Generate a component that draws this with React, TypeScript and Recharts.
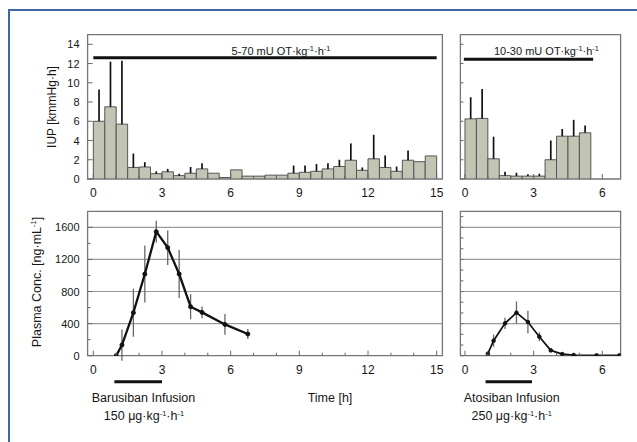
import React from 'react';
import { ComposedChart, Bar, Line, XAxis, YAxis, ErrorBar, ReferenceLine, ReferenceArea } from 'recharts';

const FONT = '"Liberation Sans", Arial, Helvetica, sans-serif';
const TXT = '#161616';
const W = 637;
const H = 442;

// ---- Data ----
const iupTimeOT70 = [0.25, 0.75, 1.25, 1.75, 2.25, 2.75, 3.25, 3.75, 4.25, 4.75, 5.25, 5.75, 6.25, 6.75, 7.25, 7.75, 8.25, 8.75, 9.25, 9.75, 10.25, 10.75, 11.25, 11.75, 12.25, 12.75, 13.25, 13.75, 14.25, 14.75];
const iupMeanOT70 = [6.0, 7.5, 5.7, 1.2, 1.25, 0.55, 0.75, 0.35, 0.6, 1.05, 0.6, 0.15, 0.95, 0.3, 0.3, 0.4, 0.4, 0.6, 0.7, 0.8, 1.05, 1.3, 1.95, 0.9, 2.1, 1.2, 0.8, 1.95, 1.8, 2.4];
const iupSdOT70 = [3.3, 4.7, 6.6, 1.45, 0.5, 0.25, 0.3, 0.2, 0.65, 0.6, 0, 0, 0, 0, 0, 0, 0, 0.8, 0.7, 0.75, 0.6, 0.7, 1.75, 0.3, 2.5, 1.25, 0.5, 1.0, 0, 0];

const iupTimeOT30 = [0.25, 0.75, 1.25, 1.75, 2.25, 2.75, 3.25, 3.75, 4.25, 4.75, 5.25];
const iupMeanOT30 = [6.25, 6.3, 2.1, 0.35, 0.3, 0.3, 0.3, 2.0, 4.45, 4.45, 4.8];
const iupSdOT30 = [2.25, 3.05, 2.3, 0.4, 0.35, 0.2, 0.25, 2.0, 0.75, 1.7, 0.75];

const pkTime = [1.0, 1.25, 1.75, 2.25, 2.75, 3.25, 3.75, 4.25, 4.75, 5.75, 6.75];
const barusibanConc = [0, 133, 536, 1018, 1546, 1347, 1018, 611, 540, 390, 270];
const barusibanSd = [0, 195, 300, 355, 135, 215, 300, 156, 73, 130, 62];
const atosibanConc = [25, 187, 403, 536, 420, 237, 66, 20, 8, 4, 4];
const atosibanSd = [0, 77, 70, 140, 140, 55, 20, 0, 0, 0, 0];

const otLong = { from: 0, to: 15, level: 12.6 };
const otShort = { from: -0.05, to: 5.6, level: 12.45 };
const barusibanInfusion = { from: 0.92, to: 3.0 };
const atosibanInfusion = { from: 0.9, to: 2.93 };
const infusionLevel = -325;

const xTicksLong = [0, 1, 2, 3, 4, 5, 6, 7, 8, 9, 10, 11, 12, 13, 14, 15];
const xLabelsLong = [0, 3, 6, 9, 12, 15];
const xTicksShort = [0, 1, 2, 3, 4, 5, 6];
const xLabelsShort = [0, 3, 6];
const yTicksIup = [0, 2, 4, 6, 8, 10, 12, 14];
const yTicksConcLeft = [0, 200, 400, 600, 800, 1000, 1200, 1400, 1600];
const yLabelsConc = [0, 400, 800, 1200, 1600];
const yTicksConcRight = [0, 133, 267, 400, 533, 667, 800, 933, 1067, 1200, 1333, 1467, 1600, 1733];
const gridConc = [400, 800, 1200, 1600];

const xDomLong: [number, number] = [-0.25, 15.25];
const xDomShort: [number, number] = [-0.2, 6.8];
const yDomIup: [number, number] = [0, 15];
const yDomConc: [number, number] = [0, 1800];

// ---- Tables ----
const barsOT70 = iupTimeOT70.map((t, i) => ({ t, v: iupMeanOT70[i], e: [0, iupSdOT70[i]] }));
const barsOT30 = iupTimeOT30.map((t, i) => ({ t, v: iupMeanOT30[i], e: [0, iupSdOT30[i]] }));
const pkBarusiban = pkTime.map((t, i) => ({ t, c: barusibanConc[i], e: barusibanSd[i] }));
const pkAtosiban = pkTime.map((t, i) => ({ t, c: atosibanConc[i], e: atosibanSd[i] }));

// ---- Layout (plot rectangles) ----
const leftX = { l: 87.6, r: 442.4 };
const rightX = { l: 460.4, r: 620.6 };
const topY = { t: 34.7, b: 179 };
const botY = { t: 211.3, b: 355.7 };

// axis width/height of 1px is accounted for in the margins
const mkMargin = (x: { l: number; r: number }, y: { t: number; b: number }) => ({
  left: x.l - 1,
  right: W - x.r,
  top: y.t,
  bottom: H - y.b - 1,
});

const barWidth = (x: { l: number; r: number }, dom: [number, number]) =>
  ((x.r - x.l) / (dom[1] - dom[0])) * 0.5 * 0.998;

const makeXTick = (labels: number[]) => (props: any) => {
  const { x, y, payload } = props;
  const v = payload.value;
  const major = labels.indexOf(v) >= 0;
  return (
    <g>
      <line x1={x} x2={x} y1={y} y2={y - (major ? 5 : 3)} stroke="#666" strokeWidth={1} />
      {major && (
        <text x={x} y={y + 18} textAnchor="middle" fontSize={12} fill={TXT} fontFamily={FONT}>
          {v}
        </text>
      )}
    </g>
  );
};

const makeYTick = (labels: number[]) => (props: any) => {
  const { x, y, payload } = props;
  const v = payload.value;
  const major = labels.indexOf(v) >= 0;
  return (
    <g>
      <line x1={x} x2={x + (major ? 5 : 3)} y1={y} y2={y} stroke="#666" strokeWidth={1} />
      {major && (
        <text x={x - 8} y={y + 4} textAnchor="end" fontSize={11} fill={TXT} fontFamily={FONT}>
          {v}
        </text>
      )}
    </g>
  );
};

const abs: React.CSSProperties = { position: 'absolute', left: 0, top: 0 };

const BOX = '#767676';
const BAR_FILL = '#c2c4b4';
const BAR_STROKE = '#565656';

const axisCommon = {
  axisLine: false,
  tickLine: false,
  tickSize: 0,
  tickMargin: 0,
  interval: 0 as const,
  allowDataOverflow: true,
};

function TopLeft() {
  return (
    <div style={abs}>
      <ComposedChart width={W} height={H} data={barsOT70} margin={mkMargin(leftX, topY)} barCategoryGap={0} barGap={0}>
        <XAxis dataKey="t" type="number" domain={xDomLong} ticks={xTicksLong} height={1} {...axisCommon} tick={makeXTick(xLabelsLong)} />
        <YAxis type="number" domain={yDomIup} ticks={yTicksIup} width={1} {...axisCommon} tick={makeYTick(yTicksIup)} />
        <ReferenceArea x1={xDomLong[0]} x2={xDomLong[1]} y1={yDomIup[0]} y2={yDomIup[1]} fill="#fff" fillOpacity={0} stroke={BOX} strokeWidth={1.3} ifOverflow="visible" />
        <Bar dataKey="v" fill={BAR_FILL} stroke={BAR_STROKE} strokeWidth={1} barSize={barWidth(leftX, xDomLong)} isAnimationActive={false}>
          <ErrorBar dataKey="e" width={0} stroke="#111" strokeWidth={1.7} direction="y" />
        </Bar>
        <ReferenceLine segment={[{ x: otLong.from, y: otLong.level }, { x: otLong.to, y: otLong.level }]} stroke="#111" strokeWidth={3} ifOverflow="visible" />
      </ComposedChart>
    </div>
  );
}

function TopRight() {
  return (
    <div style={abs}>
      <ComposedChart width={W} height={H} data={barsOT30} margin={mkMargin(rightX, topY)} barCategoryGap={0} barGap={0}>
        <XAxis dataKey="t" type="number" domain={xDomShort} ticks={xTicksShort} height={1} {...axisCommon} tick={makeXTick(xLabelsShort)} />
        <YAxis type="number" domain={yDomIup} ticks={yTicksIup} width={1} {...axisCommon} tick={makeYTick([])} />
        <ReferenceArea x1={xDomShort[0]} x2={xDomShort[1]} y1={yDomIup[0]} y2={yDomIup[1]} fill="#fff" fillOpacity={0} stroke={BOX} strokeWidth={1.3} ifOverflow="visible" />
        <Bar dataKey="v" fill={BAR_FILL} stroke={BAR_STROKE} strokeWidth={1} barSize={barWidth(rightX, xDomShort)} isAnimationActive={false}>
          <ErrorBar dataKey="e" width={0} stroke="#111" strokeWidth={1.7} direction="y" />
        </Bar>
        <ReferenceLine segment={[{ x: otShort.from, y: otShort.level }, { x: otShort.to, y: otShort.level }]} stroke="#111" strokeWidth={3} ifOverflow="visible" />
      </ComposedChart>
    </div>
  );
}

function BottomLeft() {
  return (
    <div style={abs}>
      <ComposedChart width={W} height={H} data={pkBarusiban} margin={mkMargin(leftX, botY)}>
        <XAxis dataKey="t" type="number" domain={xDomLong} ticks={xTicksLong} height={1} {...axisCommon} tick={makeXTick(xLabelsLong)} />
        <YAxis type="number" domain={yDomConc} ticks={yTicksConcLeft} width={1} {...axisCommon} tick={makeYTick(yLabelsConc)} />
        {gridConc.map((g) => (
          <ReferenceLine key={g} y={g} stroke="#9a9a9a" strokeWidth={1.2} />
        ))}
        <ReferenceArea x1={xDomLong[0]} x2={xDomLong[1]} y1={yDomConc[0]} y2={yDomConc[1]} fill="#fff" fillOpacity={0} stroke={BOX} strokeWidth={1.3} ifOverflow="visible" />
        <Line dataKey="c" type="linear" stroke="#111" strokeWidth={2.3} dot={{ r: 2, fill: '#111', stroke: '#111', strokeWidth: 1 }} isAnimationActive={false}>
          <ErrorBar dataKey="e" width={0} stroke="#666" strokeWidth={1.3} direction="y" />
        </Line>
        <ReferenceLine segment={[{ x: barusibanInfusion.from, y: infusionLevel }, { x: barusibanInfusion.to, y: infusionLevel }]} stroke="#111" strokeWidth={3} ifOverflow="visible" />
      </ComposedChart>
    </div>
  );
}

function BottomRight() {
  return (
    <div style={abs}>
      <ComposedChart width={W} height={H} data={pkAtosiban} margin={mkMargin(rightX, botY)}>
        <XAxis dataKey="t" type="number" domain={xDomShort} ticks={xTicksShort} height={1} {...axisCommon} tick={makeXTick(xLabelsShort)} />
        <YAxis type="number" domain={yDomConc} ticks={yTicksConcRight} width={1} {...axisCommon} tick={makeYTick([])} />
        {gridConc.map((g) => (
          <ReferenceLine key={g} y={g} stroke="#9a9a9a" strokeWidth={1.2} />
        ))}
        <ReferenceArea x1={xDomShort[0]} x2={xDomShort[1]} y1={yDomConc[0]} y2={yDomConc[1]} fill="#fff" fillOpacity={0} stroke={BOX} strokeWidth={1.3} ifOverflow="visible" />
        <Line dataKey="c" type="linear" stroke="#111" strokeWidth={1.7} dot={{ r: 1.8, fill: '#111', stroke: '#111', strokeWidth: 1 }} isAnimationActive={false}>
          <ErrorBar dataKey="e" width={0} stroke="#666" strokeWidth={1.3} direction="y" />
        </Line>
        <ReferenceLine segment={[{ x: atosibanInfusion.from, y: infusionLevel }, { x: atosibanInfusion.to, y: infusionLevel }]} stroke="#111" strokeWidth={3} ifOverflow="visible" />
      </ComposedChart>
    </div>
  );
}

const Sup = ({ children }: { children: React.ReactNode }) => (
  <tspan dy={-4} fontSize={7.5}>{children}</tspan>
);

function Labels() {
  return (
    <svg width={W} height={H} style={{ ...abs, pointerEvents: 'none' }} fontFamily={FONT} fill={TXT}>
      <text x={281} y={55} fontSize={11} textAnchor="middle">
        5-70 mU OT·kg<Sup>-1</Sup><tspan dy={4}>·h</tspan><Sup>-1</Sup>
      </text>
      <text x={546.5} y={55} fontSize={11} textAnchor="middle">
        10-30 mU OT·kg<Sup>-1</Sup><tspan dy={4}>·h</tspan><Sup>-1</Sup>
      </text>
      <text transform="translate(52,107) rotate(-90)" fontSize={12} textAnchor="middle" dominantBaseline="central">
        IUP [kmmHg·h]
      </text>
      <text transform="translate(37,282) rotate(-90)" fontSize={12.5} textAnchor="middle" dominantBaseline="central">
        Plasma Conc. [ng·mL<Sup>-1</Sup><tspan dy={4}>]</tspan>
      </text>
      <text x={143.5} y={402} fontSize={12.5} textAnchor="middle">Barusiban Infusion</text>
      <text x={144} y={420} fontSize={12.5} textAnchor="middle">
        150 μg·kg<Sup>-1</Sup><tspan dy={4}>·h</tspan><Sup>-1</Sup>
      </text>
      <text x={330} y={402} fontSize={12.5} textAnchor="middle">Time [h]</text>
      <text x={511.7} y={402} fontSize={12.5} textAnchor="middle">Atosiban Infusion</text>
      <text x={511.7} y={420} fontSize={12.5} textAnchor="middle">
        250 μg·kg<Sup>-1</Sup><tspan dy={4}>·h</tspan><Sup>-1</Sup>
      </text>
    </svg>
  );
}

export default function App() {
  return (
    <div style={{ position: 'absolute', left: 0, top: 0, width: W, height: H, overflow: 'hidden', background: '#fff', fontFamily: FONT }}>
      <div style={{ position: 'absolute', left: 8, top: 9, width: 700, height: 500, borderTop: '2px solid #4068a8', borderLeft: '2px solid #4068a8' }} />
      <TopLeft />
      <TopRight />
      <BottomLeft />
      <BottomRight />
      <Labels />
    </div>
  );
}
